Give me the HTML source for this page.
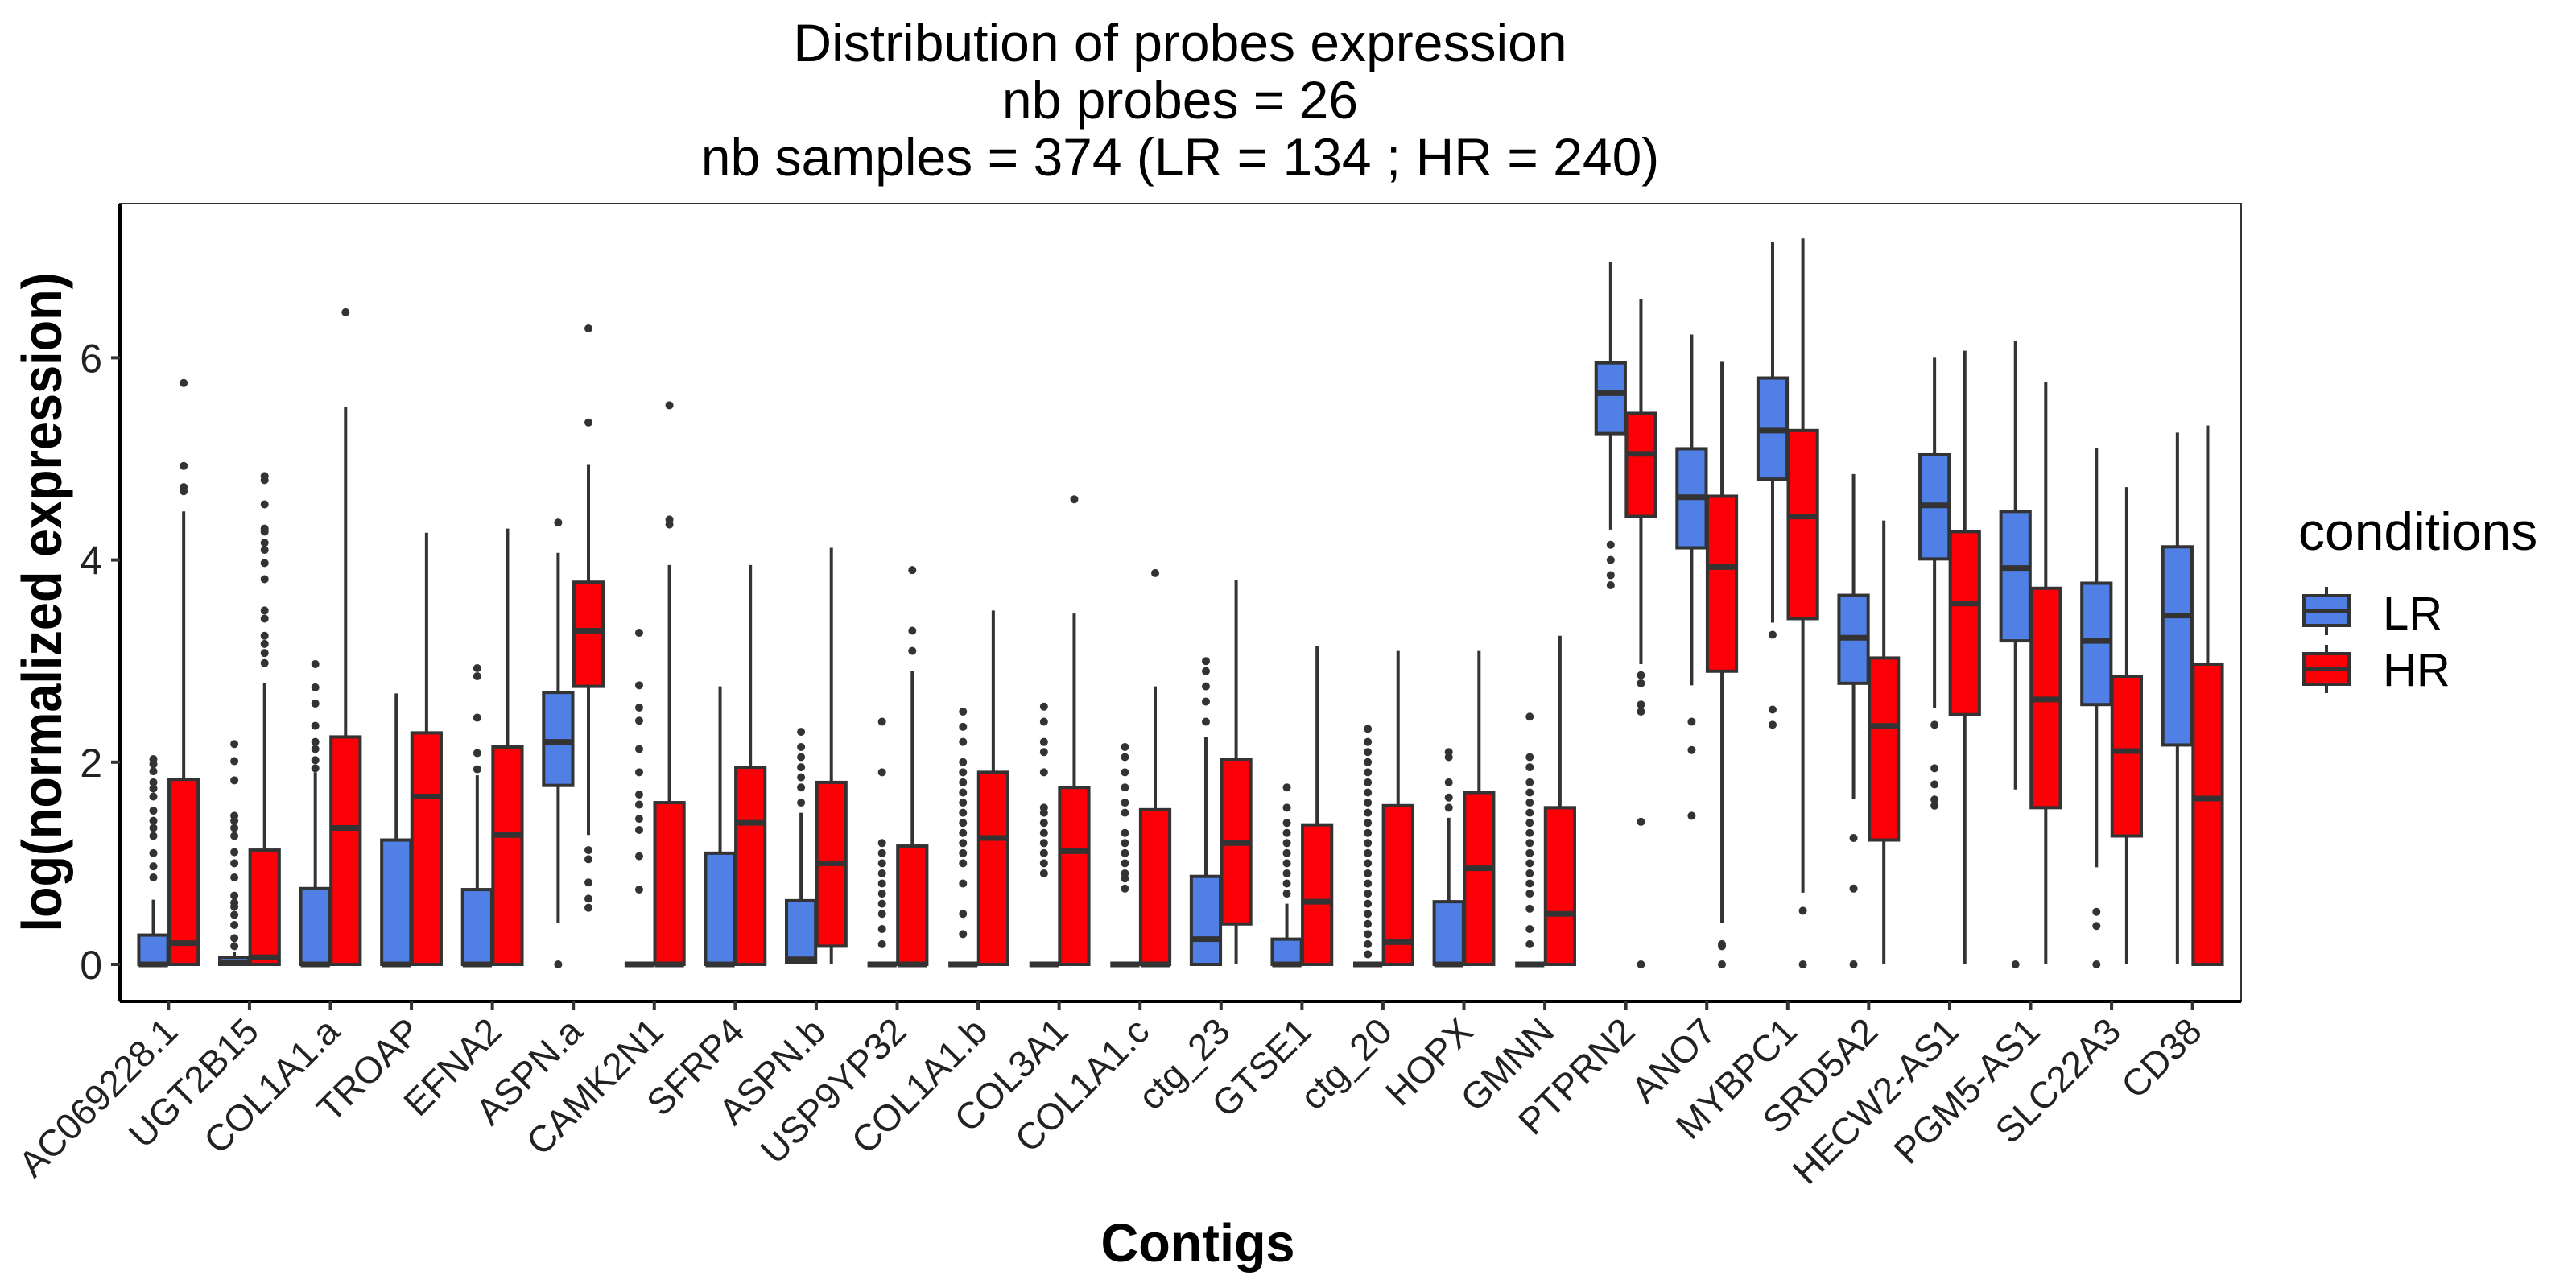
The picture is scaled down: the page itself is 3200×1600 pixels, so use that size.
<!DOCTYPE html>
<html><head><meta charset="utf-8">
<style>
html,body{margin:0;padding:0;background:#fff;}
svg{display:block;font-family:"Liberation Sans",Arial,sans-serif;}
</style></head>
<body>
<svg id="chart" width="3200" height="1600" viewBox="0 0 3200 1600" xmlns="http://www.w3.org/2000/svg">
<rect x="0" y="0" width="3200" height="1600" fill="#fff"/>
<g font-size="66" text-anchor="middle" fill="#000">
<text x="1466" y="76">Distribution of probes expression</text>
<text x="1466" y="147">nb probes = 26</text>
<text x="1466" y="218">nb samples = 374 (LR = 134 ; HR = 240)</text>
</g>
<text x="0" y="0" font-size="63" font-weight="bold" text-anchor="middle" transform="translate(76,748) rotate(-90) scale(1,1.1)">log(normalized expression)</text>
<text x="0" y="0" font-size="60" font-weight="bold" text-anchor="middle" transform="translate(1488,1567) scale(1.08,1.12)">Contigs</text>
<g id="plot"></g>
<g>
<text x="2855" y="683" font-size="66">conditions</text>
<g>
<line x1="2890" y1="729" x2="2890" y2="789" stroke="#333" stroke-width="4"/>
<rect x="2862" y="740" width="56" height="37" fill="#5080e6" stroke="#333" stroke-width="4"/>
<line x1="2862" y1="759" x2="2918" y2="759" stroke="#333" stroke-width="6"/>
<text x="2960" y="782" font-size="58">LR</text>
</g>
<g>
<line x1="2890" y1="801" x2="2890" y2="861" stroke="#333" stroke-width="4"/>
<rect x="2862" y="812" width="56" height="38" fill="#fc0007" stroke="#333" stroke-width="4"/>
<line x1="2862" y1="831" x2="2918" y2="831" stroke="#333" stroke-width="6"/>
<text x="2960" y="852" font-size="58">HR</text>
</g>
</g>
</svg>
<script>
const categories = ["AC069228.1","UGT2B15","COL1A1.a","TROAP","EFNA2","ASPN.a","CAMK2N1","SFRP4","ASPN.b","USP9YP32","COL1A1.b","COL3A1","COL1A1.c","ctg_23","GTSE1","ctg_20","HOPX","GMNN","PTPRN2","ANO7","MYBPC1","SRD5A2","HECW2-AS1","PGM5-AS1","SLC22A3","CD38"];
const lrLow  = [0,0,0,0,0,0.41,0,0,0,0,0,0,0,0,0,0,0,0,4.3,2.76,3.38,1.64,2.54,1.73,0.96,0];
const lrQ1   = [0,0,0,0,0,1.77,0,0,0.02,0,0,0,0,0,0,0,0,0,5.25,4.12,4.8,2.78,4.01,3.2,2.57,2.17];
const lrMed  = [0,0.02,0,0,0,2.2,0,0,0.05,0,0,0,0,0.25,0,0,0,0,5.65,4.62,5.28,3.23,4.54,3.92,3.2,3.45];
const lrQ3   = [0.29,0.07,0.75,1.23,0.74,2.69,0,1.1,0.63,0,0,0,0,0.87,0.25,0,0.62,0,5.95,5.1,5.8,3.65,5.04,4.48,3.77,4.13];
const lrHigh = [0.64,0.12,1.9,2.68,1.87,4.07,0,2.75,1.5,0,0,0,0,2.25,0.6,0,1.45,0,6.95,6.23,7.15,4.85,6.0,6.17,5.11,5.26];
const lrOut = [
 [2.03,1.98,1.91,1.8,1.74,1.66,1.52,1.42,1.35,1.27,1.1,0.97,0.86],
 [2.18,2.01,1.82,1.47,1.42,1.35,1.27,1.11,1.0,0.86,0.68,0.61,0.57,0.49,0.39,0.26,0.18],
 [1.94,2.02,2.13,2.2,2.36,2.58,2.74,2.97],
 [],
 [1.93,2.09,2.44,2.85,2.93],
 [0,4.37],
 [3.28,2.76,2.54,2.41,2.13,1.9,1.68,1.58,1.44,1.33,1.07,0.74],
 [],
 [1.6,1.75,1.85,1.95,2.05,2.15,2.3],
 [0.2,0.35,0.5,0.6,0.7,0.8,0.9,1.0,1.1,1.2,1.9,2.4],
 [0.3,0.5,0.8,1.0,1.1,1.2,1.3,1.4,1.5,1.6,1.7,1.8,1.9,2.0,2.2,2.35,2.5],
 [0.9,1.0,1.1,1.2,1.3,1.4,1.5,1.55,1.9,2.1,2.2,2.4,2.55],
 [0.75,0.85,0.9,1.0,1.1,1.2,1.3,1.5,1.6,1.75,1.9,2.05,2.15],
 [2.4,2.6,2.75,2.9,3.0],
 [0.7,0.8,0.9,1.0,1.1,1.2,1.3,1.4,1.55,1.75],
 [0.1,0.2,0.3,0.4,0.5,0.6,0.7,0.8,0.9,1.0,1.1,1.2,1.3,1.4,1.5,1.6,1.7,1.8,1.9,2.0,2.1,2.2,2.33],
 [1.55,1.65,1.8,2.05,2.1],
 [0.2,0.35,0.55,0.7,0.8,0.9,1.0,1.1,1.2,1.3,1.4,1.5,1.6,1.7,1.8,1.95,2.05,2.45],
 [3.75,3.85,4.0,4.15],
 [2.4,2.12,1.47],
 [3.26,2.52,2.37],
 [1.25,0.75,0],
 [2.37,1.94,1.78,1.63,1.57],
 [0],
 [0.52,0.38,0],
 []
];
const hrLow  = [0,0,0,0,0,1.28,0,0,0,0,0,0,0,0,0,0,0,0,2.97,0.41,0.71,0,0,0,0,0];
const hrQ1   = [0,0,0,0,0,2.75,0,0,0.18,0,0,0,0,0.4,0,0,0,0,4.43,2.9,3.42,1.23,2.47,1.55,1.27,0];
const hrMed  = [0.21,0.07,1.35,1.66,1.28,3.3,0,1.4,1.0,0,1.25,1.12,0,1.2,0.62,0.22,0.95,0.5,5.05,3.93,4.43,2.36,3.57,2.62,2.11,1.64];
const hrQ3   = [1.83,1.13,2.25,2.29,2.15,3.78,1.6,1.95,1.8,1.17,1.9,1.75,1.53,2.03,1.38,1.57,1.7,1.55,5.45,4.63,5.28,3.03,4.28,3.72,2.85,2.97];
const hrHigh = [4.48,2.78,5.51,4.27,4.31,4.94,3.95,3.95,4.12,2.9,3.5,3.47,2.75,3.8,3.15,3.1,3.1,3.25,6.58,5.96,7.18,4.39,6.07,5.76,4.72,5.33];
const hrOut = [
 [4.72,4.68,4.93,5.75],
 [2.98,3.08,3.17,3.25,3.42,3.5,3.81,3.97,4.1,4.17,4.28,4.31,4.55,4.79,4.83],
 [6.45],
 [],
 [],
 [1.13,1.04,0.81,0.65,0.56,5.36,6.29],
 [4.35,4.4,5.53],
 [],
 [],
 [3.1,3.3,3.9],
 [],
 [4.6],
 [3.87],
 [],[],[],[],[],
 [2.86,2.78,2.57,2.5,1.41,0],
 [0.2,0.18,0],
 [0.53,0],
 [],[],[],[],[]
];
const yTicks = [0,2,4,6];

const NS="http://www.w3.org/2000/svg";
const L=149,R=2784,T=253,B=1244;
const y0=1198, perUnit=125.6;
const xStep=(R-L)/26.2;
function yScale(v){return y0 - v*perUnit;}
function xScale(i){return L + (i+0.6)*xStep;}
const plot=document.getElementById('plot');
function mk(tag,attrs,parent){const e=document.createElementNS(NS,tag);for(const k in attrs)e.setAttribute(k,attrs[k]);(parent||plot).appendChild(e);return e;}

const panel=mk('rect',{x:L,y:T,width:R-L,height:B-T,fill:'#fff',stroke:'#333','stroke-width':2});



const yAxis=mk('g',{});


mk('line',{x1:L,y1:T,x2:L,y2:B,stroke:'#000','stroke-width':4},yAxis);
yTicks.forEach(t=>{
  const y=yScale(t);
  mk('line',{x1:L-11,y1:y,x2:L,y2:y,stroke:'#333','stroke-width':4},yAxis);
  const tx=mk('text',{x:L-22,y:y+18,'font-size':50,'text-anchor':'end',fill:'#222'},yAxis);
  
  
  tx.textContent=t;
});
const xAxis=mk('g',{});


mk('line',{x1:L,y1:B,x2:R,y2:B,stroke:'#000','stroke-width':4},xAxis);
categories.forEach((c,i)=>{
  const x=xScale(i);
  mk('line',{x1:x,y1:B,x2:x,y2:B+11,stroke:'#333','stroke-width':4},xAxis);
  const tx=mk('text',{x:0,y:0,'font-size':46,'text-anchor':'end',fill:'#222',transform:`translate(${x+14},${B+40}) rotate(-45)`},xAxis);
  
  
  tx.textContent=c;
});

const bw=0.36*xStep, off=0.187*xStep;
function drawBox(i,cx,lo,q1,md,q3,hi,outs,fill,name){
  const g=mk('g',{});
  
  
  mk('line',{x1:cx,y1:yScale(hi),x2:cx,y2:yScale(q3),stroke:'#333','stroke-width':4},g);
  mk('line',{x1:cx,y1:yScale(q1),x2:cx,y2:yScale(lo),stroke:'#333','stroke-width':4},g);
  const h=Math.max(yScale(q1)-yScale(q3),0);
  mk('rect',{x:cx-bw/2,y:yScale(q3),width:bw,height:h,fill:fill,stroke:'#333','stroke-width':4},g);
  mk('line',{x1:cx-bw/2,y1:yScale(md),x2:cx+bw/2,y2:yScale(md),stroke:'#333','stroke-width':7},g);
  outs.forEach(v=>{
    const c=mk('circle',{cx:cx,cy:yScale(v),r:5,fill:'#333'},g);
    
    
  });
}
categories.forEach((c,i)=>{
  const x=xScale(i);
  drawBox(i,x-off,lrLow[i],lrQ1[i],lrMed[i],lrQ3[i],lrHigh[i],lrOut[i],'#5080e6','box-lr-'+c.toLowerCase());
  drawBox(i,x+off,hrLow[i],hrQ1[i],hrMed[i],hrQ3[i],hrHigh[i],hrOut[i],'#fc0007','box-hr-'+c.toLowerCase());
});
</script>
</body></html>
